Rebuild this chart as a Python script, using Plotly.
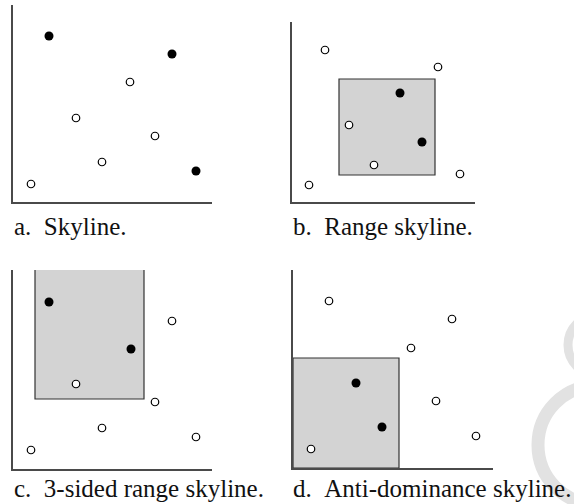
import plotly.graph_objects as go

W, H = 574, 504

# ---------------- data ----------------
# Panel a: Skyline
a_open_x = [5.85, 3.15, 7.1, 4.45, 0.9]
a_open_y = [6.0, 4.2, 3.3, 2.0, 0.9]
a_fill_x = [1.8, 7.95, 9.15]
a_fill_y = [8.3, 7.4, 1.55]

# Panel b: Range skyline
b_open_x = [1.65, 7.3, 2.85, 4.1, 8.4, 0.85]
b_open_y = [7.6, 6.75, 3.85, 1.85, 1.4, 0.85]
b_fill_x = [5.4, 6.5]
b_fill_y = [5.45, 3.0]
b_range_x = [2.35, 7.15]
b_range_y = [1.35, 6.15]

# Panel c: 3-sided range skyline
c_open_x = [7.95, 3.15, 7.1, 4.45, 9.15, 0.9]
c_open_y = [7.4, 4.25, 3.35, 2.05, 1.6, 0.95]
c_fill_x = [1.8, 5.9]
c_fill_y = [8.35, 6.0]
c_range_x = [1.1, 6.55]
c_range_y = [3.5, 9.95]

# Panel d: Anti-dominance skyline
d_open_x = [1.8, 7.95, 5.9, 7.15, 9.15, 0.9]
d_open_y = [8.35, 7.45, 6.0, 3.35, 1.6, 0.95]
d_fill_x = [3.15, 4.45]
d_fill_y = [4.25, 2.05]
d_range_x = [0, 5.3]
d_range_y = [0, 5.5]

captions = ["a.\u2002Skyline.", "b.\u2002Range skyline.",
            "c.\u20023-sided range skyline.", "d.\u2002Anti-dominance skyline."]

# ---------------- layout helpers ----------------
def px(x):
    return x / W

def py(y):
    return 1 - y / H

# panel boxes in pixels: (left, top, right, bottom), axis ranges
panels = [
    dict(box=(13, 5, 212, 202), xr=9.95, yr=9.85),
    dict(box=(292, 22, 475, 202), xr=9.15, yr=9.0),
    dict(box=(13, 270, 212, 469), xr=9.95, yr=9.95),
    dict(box=(293, 270, 493, 468), xr=10.0, yr=9.9),
]

fig = go.Figure()

open_sets = [(a_open_x, a_open_y), (b_open_x, b_open_y), (c_open_x, c_open_y), (d_open_x, d_open_y)]
fill_sets = [(a_fill_x, a_fill_y), (b_fill_x, b_fill_y), (c_fill_x, c_fill_y), (d_fill_x, d_fill_y)]

layout_axes = {}
for i, p in enumerate(panels):
    n = "" if i == 0 else str(i + 1)
    l, t, r, b = p["box"]
    ax_common = dict(showgrid=False, zeroline=False, showticklabels=False, ticks="",
                     showline=True, linecolor="#4a4a4a", linewidth=1.5, mirror=False,
                     fixedrange=True)
    layout_axes["xaxis" + n] = dict(domain=[px(l), px(r)], range=[0, p["xr"]],
                                    anchor="y" + n, **ax_common)
    layout_axes["yaxis" + n] = dict(domain=[py(b), py(t)], range=[0, p["yr"]],
                                    anchor="x" + n, **ax_common)
    ox, oy = open_sets[i]
    fx, fy = fill_sets[i]
    fig.add_trace(go.Scatter(x=ox, y=oy, mode="markers", xaxis="x" + n, yaxis="y" + n,
                             marker=dict(symbol="circle", size=7.5, color="white",
                                         line=dict(color="black", width=1.2)),
                             cliponaxis=False, showlegend=False, hoverinfo="skip"))
    fig.add_trace(go.Scatter(x=fx, y=fy, mode="markers", xaxis="x" + n, yaxis="y" + n,
                             marker=dict(symbol="circle", size=9, color="black",
                                         line=dict(width=0)),
                             cliponaxis=False, showlegend=False, hoverinfo="skip"))

shapes = []
# watermark-like grey rings at the right edge
shapes.append(dict(type="circle", xref="paper", yref="paper",
                   x0=px(538), x1=px(654), y0=py(504), y1=py(386),
                   line=dict(color="#e2e2e2", width=13), layer="below"))
shapes.append(dict(type="circle", xref="paper", yref="paper",
                   x0=px(568), x1=px(628), y0=py(375), y1=py(315),
                   line=dict(color="#e2e2e2", width=9), layer="below"))

rect_style = dict(fillcolor="#d3d3d3", line=dict(color="#333333", width=1.2), layer="below")
# panel b range
shapes.append(dict(type="rect", xref="x2", yref="y2",
                   x0=b_range_x[0], x1=b_range_x[1], y0=b_range_y[0], y1=b_range_y[1], **rect_style))
# panel c 3-sided range: fill + three sides
shapes.append(dict(type="rect", xref="x3", yref="y3",
                   x0=c_range_x[0], x1=c_range_x[1], y0=c_range_y[0], y1=c_range_y[1],
                   fillcolor="#d3d3d3", line=dict(width=0), layer="below"))
shapes.append(dict(type="path", xref="x3", yref="y3",
                   path=f"M {c_range_x[0]} {c_range_y[1]} L {c_range_x[0]} {c_range_y[0]} "
                        f"L {c_range_x[1]} {c_range_y[0]} L {c_range_x[1]} {c_range_y[1]}",
                   line=dict(color="#333333", width=1.2), layer="above"))
# panel d anti-dominance region
shapes.append(dict(type="rect", xref="x4", yref="y4",
                   x0=d_range_x[0], x1=d_range_x[1], y0=d_range_y[0], y1=d_range_y[1], **rect_style))

annotations = []
cap_pos = [(12, 227), (291, 227), (12, 488), (291, 488)]
for (cx, cy), txt in zip(cap_pos, captions):
    annotations.append(dict(x=px(cx), y=py(cy), xref="paper", yref="paper", text=txt,
                            showarrow=False, xanchor="left", yanchor="middle",
                            font=dict(family="Liberation Serif, DejaVu Serif, serif",
                                      size=25, color="#111111")))

fig.update_layout(width=W, height=H, margin=dict(l=0, r=0, t=0, b=0),
                  paper_bgcolor="white", plot_bgcolor="rgba(0,0,0,0)",
                  shapes=shapes, annotations=annotations, **layout_axes)

fig.write_html("out.html", config={"displayModeBar": False},
               post_script="document.body.style.margin='0';document.body.style.overflow='hidden';")
